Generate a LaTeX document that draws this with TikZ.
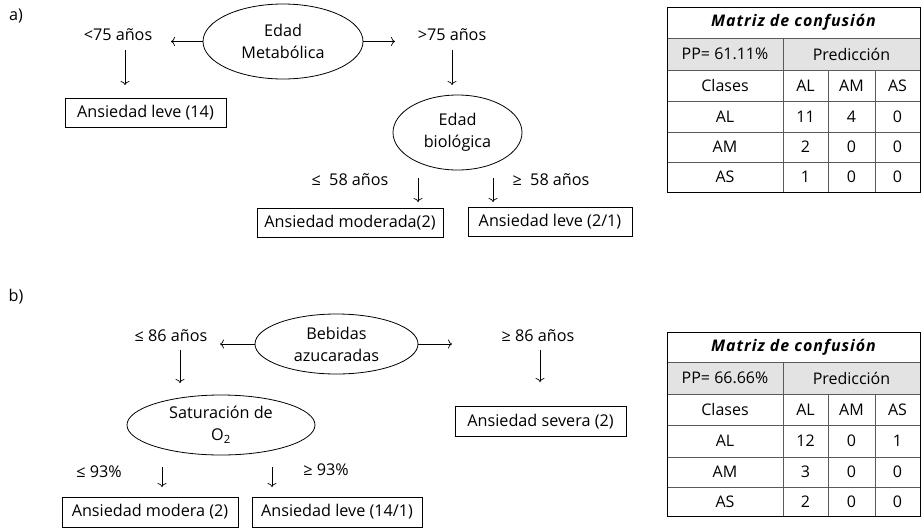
\documentclass[tikz,border=0pt]{standalone}
\usepackage{fontspec}
\setmainfont{Open Sans}
\usetikzlibrary{shapes.geometric,arrows.meta}
\begin{document}
\begin{tikzpicture}[x=1pt,y=-1pt,
  every node/.style={font=\fontsize{16.2}{22}\selectfont, inner sep=0pt},
  leaf/.style={draw, line width=0.8pt, minimum height=29},
  split/.style={draw, ellipse, line width=0.8pt, align=center, minimum height=75},
  arr/.style={-{To[length=4pt,width=9pt]}, line width=0.7pt},
  tab/.style={font=\fontsize{16}{18}\selectfont},
  tabtitle/.style={font=\fontsize{16}{18}\selectfont\bfseries\itshape\addfontfeature{LetterSpace=6}},
  outer/.style={line width=0.9pt},
  inner/.style={line width=0.8pt, black!65}
]
\useasboundingbox (0,0) rectangle (921,528);

% ---------------- part a ----------------
\node (la) at (16,16) {a)};
\node[split, minimum width=160] (em) at (283,41.5) {Edad\\Metabólica};
\node (lt75) at (118,35) {<75 años};
\node (gt75) at (452,35) {>75 años};
\coordinate (a1end) at (171,41.5);
\coordinate (a2end) at (395,41.5);
\draw[arr] (em.west) -- (a1end);
\draw[arr] (em.east) -- (a2end);
\node[leaf, minimum width=161] (al14) at (145.5,112.5) {Ansiedad leve (14)};
\coordinate (d1s) at (125,50);
\coordinate (d1e) at (125,85);
\draw[arr] (d1s) -- (d1e);
\node[split, minimum width=129] (eb) at (457.5,132.5) {Edad\\biológica};
\coordinate (d2s) at (452,50);
\coordinate (d2e) at (452,85);
\draw[arr] (d2s) -- (d2e);
\node (le58) at (350,180) {≤\ \ 58 años};
\node (ge58) at (551,180) {≥\ \ 58 años};
\coordinate (d3s) at (418,178);
\coordinate (d3e) at (418,202);
\draw[arr] (d3s) -- (d3e);
\coordinate (d4s) at (493,178);
\coordinate (d4e) at (493,202);
\draw[arr] (d4s) -- (d4e);
\node[leaf, minimum width=186] (amod) at (350,223) {Ansiedad moderada(2)};
\node[leaf, minimum width=164] (al21) at (550,222) {Ansiedad leve (2/1)};

% table a
\begin{scope}[yshift=-7pt]
\fill[black!11] (667,31) rectangle (920,63);
\draw[inner] (667,31) -- (920,31);
\draw[inner] (667,63) -- (920,63);
\draw[inner] (667,94) -- (920,94);
\draw[inner] (667,125) -- (920,125);
\draw[inner] (667,155) -- (920,155);
\draw[inner] (783,31) -- (783,185);
\draw[inner] (828,63) -- (828,185);
\draw[inner] (875,63) -- (875,185);
\draw[outer] (667,0) rectangle (920,185);
\node[tabtitle] (ta0) at (793.5,15.5) {Matriz de confusión};
\node[tab] (ta1) at (725,47) {PP= 61.11\%};
\node[tab] (ta2) at (851.5,47) {Predicción};
\node[tab] (ta3) at (725,78.5) {Clases};
\node[tab] (ta4) at (805.5,78.5) {AL};
\node[tab] (ta5) at (851.5,78.5) {AM};
\node[tab] (ta6) at (897.5,78.5) {AS};
\node[tab] (ta7) at (725,109.5) {AL};
\node[tab] (ta8) at (805.5,109.5) {11};
\node[tab] (ta9) at (851.5,109.5) {4};
\node[tab] (ta10) at (897.5,109.5) {0};
\node[tab] (ta11) at (725,140) {AM};
\node[tab] (ta12) at (805.5,140) {2};
\node[tab] (ta13) at (851.5,140) {0};
\node[tab] (ta14) at (897.5,140) {0};
\node[tab] (ta15) at (725,170) {AS};
\node[tab] (ta16) at (805.5,170) {1};
\node[tab] (ta17) at (851.5,170) {0};
\node[tab] (ta18) at (897.5,170) {0};
\end{scope}

% ---------------- part b ----------------
\node (lb) at (16,297) {b)};
\node[split, minimum width=163, minimum height=60] (bz) at (336.5,344) {Bebidas\\azucaradas};
\node (le86) at (171,336) {≤ 86 años};
\node (ge86) at (538,336) {≥ 86 años};
\coordinate (b1end) at (220,344);
\coordinate (b2end) at (452,344);
\draw[arr] (bz.west) -- (b1end);
\draw[arr] (bz.east) -- (b2end);
\coordinate (e1s) at (180,350);
\coordinate (e1e) at (180,383);
\draw[arr] (e1s) -- (e1e);
\coordinate (e2s) at (540,350);
\coordinate (e2e) at (540,382);
\draw[arr] (e2s) -- (e2e);
\node[leaf, minimum width=171, minimum height=30] (asev) at (540.5,421.5) {Ansiedad severa (2)};
\node[split, minimum width=188, minimum height=60] (so) at (221,425) {Saturación de\\O\textsubscript{2}};
\node (le93) at (99,472) {≤ 93\%};
\node (ge93) at (326,470) {≥ 93\%};
\coordinate (e3s) at (162,467);
\coordinate (e3e) at (162,487);
\draw[arr] (e3s) -- (e3e);
\coordinate (e4s) at (272,467);
\coordinate (e4e) at (272,487);
\draw[arr] (e4s) -- (e4e);
\node[leaf, minimum width=176, minimum height=30] (amo) at (150,512) {Ansiedad modera (2)};
\node[leaf, minimum width=170, minimum height=30] (al141) at (337,512) {Ansiedad leve (14/1)};

% table b
\begin{scope}[yshift=-332pt]
\fill[black!11] (667,30) rectangle (920,62);
\draw[inner] (667,30) -- (920,30);
\draw[inner] (667,62) -- (920,62);
\draw[inner] (667,93) -- (920,93);
\draw[inner] (667,125) -- (920,125);
\draw[inner] (667,155) -- (920,155);
\draw[inner] (783,30) -- (783,184);
\draw[inner] (828,62) -- (828,184);
\draw[inner] (875,62) -- (875,184);
\draw[outer] (667,0) rectangle (920,184);
\node[tabtitle] (tb0) at (793.5,15) {Matriz de confusión};
\node[tab] (tb1) at (725,46) {PP= 66.66\%};
\node[tab] (tb2) at (851.5,46) {Predicción};
\node[tab] (tb3) at (725,77.5) {Clases};
\node[tab] (tb4) at (805.5,77.5) {AL};
\node[tab] (tb5) at (851.5,77.5) {AM};
\node[tab] (tb6) at (897.5,77.5) {AS};
\node[tab] (tb7) at (725,109) {AL};
\node[tab] (tb8) at (805.5,109) {12};
\node[tab] (tb9) at (851.5,109) {0};
\node[tab] (tb10) at (897.5,109) {1};
\node[tab] (tb11) at (725,140) {AM};
\node[tab] (tb12) at (805.5,140) {3};
\node[tab] (tb13) at (851.5,140) {0};
\node[tab] (tb14) at (897.5,140) {0};
\node[tab] (tb15) at (725,169.5) {AS};
\node[tab] (tb16) at (805.5,169.5) {2};
\node[tab] (tb17) at (851.5,169.5) {0};
\node[tab] (tb18) at (897.5,169.5) {0};
\end{scope}
\end{tikzpicture}
\end{document}
